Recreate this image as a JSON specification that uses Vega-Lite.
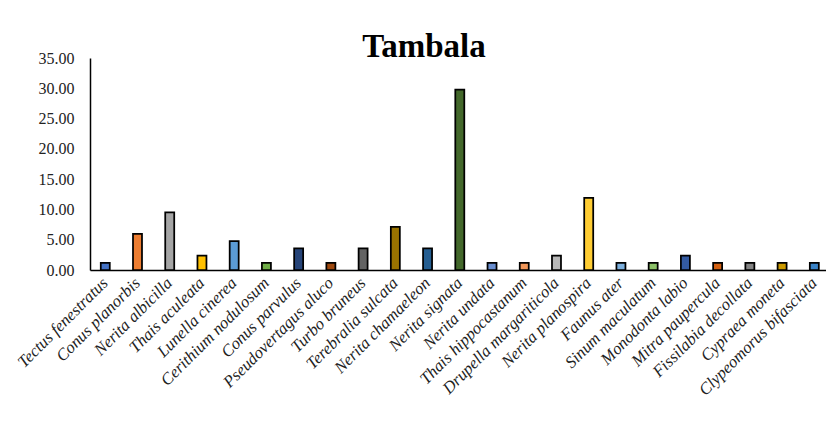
{
  "$schema": "https://vega.github.io/schema/vega-lite/v6.json",
  "width": 736,
  "height": 212,
  "autosize": {"type": "none"},
  "padding": {"left": 90, "top": 58, "right": 0, "bottom": 171},
  "background": "white",
  "title": {
    "text": "Tambala",
    "font": "Liberation Serif",
    "fontSize": 33,
    "fontWeight": "bold",
    "color": "#000000",
    "anchor": "middle",
    "frame": "group",
    "dx": -34,
    "dy": 40,
    "baseline": "alphabetic",
    "offset": 0
  },
  "data": {
    "values": [
      {"species": "Tectus fenestratus", "value": 1.19},
      {"species": "Conus planorbis", "value": 5.95},
      {"species": "Nerita albicilla", "value": 9.52},
      {"species": "Thais aculeata", "value": 2.38},
      {"species": "Lunella cinerea", "value": 4.76},
      {"species": "Cerithium nodulosum", "value": 1.19},
      {"species": "Conus parvulus", "value": 3.57},
      {"species": "Pseudovertagus aluco", "value": 1.19},
      {"species": "Turbo bruneus", "value": 3.57},
      {"species": "Terebralia sulcata", "value": 7.14},
      {"species": "Nerita chamaeleon", "value": 3.57},
      {"species": "Nerita signata", "value": 29.76},
      {"species": "Nerita undata", "value": 1.19},
      {"species": "Thais hippocastanum", "value": 1.19},
      {"species": "Drupella margariticola", "value": 2.38},
      {"species": "Nerita planospira", "value": 11.90},
      {"species": "Faunus ater", "value": 1.19},
      {"species": "Sinum maculatum", "value": 1.19},
      {"species": "Monodonta labio", "value": 2.38},
      {"species": "Mitra paupercula", "value": 1.19},
      {"species": "Fissilabia decollata", "value": 1.19},
      {"species": "Cypraea moneta", "value": 1.19},
      {"species": "Clypeomorus bifasciata", "value": 1.19}
    ]
  },
  "mark": {"type": "bar", "stroke": "#000000", "strokeWidth": 1.75},
  "encoding": {
    "x": {
      "field": "species",
      "type": "nominal",
      "sort": null,
      "title": null,
      "scale": {"paddingInner": 0.7208, "paddingOuter": 0.2784, "align": 0.6},
      "axis": {
        "domain": true,
        "domainColor": "#000000",
        "domainWidth": 1.5,
        "ticks": false,
        "labelAngle": -45,
        "labelAlign": "right",
        "labelBaseline": "middle",
        "labelPadding": 10,
        "labelFont": "Liberation Serif",
        "labelFontStyle": "italic",
        "labelFontSize": 16.7,
        "labelColor": "#222222",
        "labelLimit": 300
      }
    },
    "y": {
      "field": "value",
      "type": "quantitative",
      "title": null,
      "scale": {"domain": [0, 35], "nice": false},
      "axis": {
        "values": [0, 5, 10, 15, 20, 25, 30, 35],
        "format": ".2f",
        "grid": false,
        "domain": true,
        "domainColor": "#000000",
        "domainWidth": 1.5,
        "ticks": false,
        "labelPadding": 16,
        "labelFont": "Liberation Serif",
        "labelFontSize": 16,
        "labelColor": "#222222"
      }
    },
    "color": {
      "field": "species",
      "type": "nominal",
      "sort": null,
      "legend": null,
      "scale": {
        "domain": [
          "Tectus fenestratus", "Conus planorbis", "Nerita albicilla", "Thais aculeata",
          "Lunella cinerea", "Cerithium nodulosum", "Conus parvulus", "Pseudovertagus aluco",
          "Turbo bruneus", "Terebralia sulcata", "Nerita chamaeleon", "Nerita signata",
          "Nerita undata", "Thais hippocastanum", "Drupella margariticola", "Nerita planospira",
          "Faunus ater", "Sinum maculatum", "Monodonta labio", "Mitra paupercula",
          "Fissilabia decollata", "Cypraea moneta", "Clypeomorus bifasciata"
        ],
        "range": [
          "#4472C4", "#ED7D31", "#A5A5A5", "#FFC000", "#5B9BD5", "#70AD47", "#264478", "#9E480E",
          "#636363", "#997300", "#255E91", "#43682B", "#698ED0", "#F1975A", "#B7B7B7", "#FFCD33",
          "#7CAFDD", "#8CC168", "#335AA1", "#D26012", "#848484", "#CC9A00", "#3A83C8"
        ]
      }
    }
  },
  "config": {
    "view": {"stroke": null}
  }
}
